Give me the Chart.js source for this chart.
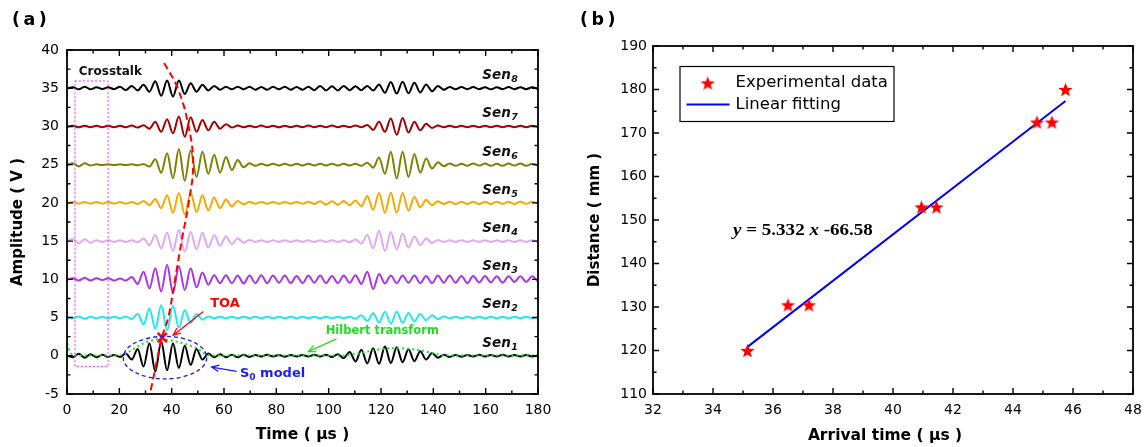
<!DOCTYPE html>
<html><head><meta charset="utf-8">
<script src="https://cdn.jsdelivr.net/npm/chart.js@4"></script>
<style>
html,body{margin:0;padding:0;background:#fff;}
#wrap{position:relative;width:1147px;height:447px;overflow:hidden;background:#fff;}
canvas{position:absolute;top:0;}
#ca{left:0;} #cb{left:570px;}
</style></head><body>
<div id="wrap"><canvas id="ca" width="570" height="447"></canvas><canvas id="cb" width="577" height="447"></canvas></div>
<script>
// ---------------- Panel (a) data ----------------
const sampleStep = 2.25; // µs between successive read extrema
const sen1 = [0.05,-0.2,0.25,-0.25,0.2,-0.2,0.15,-0.15,0.1,-0.15,
  0.3,-0.5,0.9,-1.4,1.65,-2.05,1.9,-1.9,1.65,-1.6,
  1.3,-1.2,0.9,-0.5,0.3,-0.2,0.2,-0.2,0.15,-0.2,
  0.15,-0.15,0.1,-0.1,0.12,-0.1,0.1,-0.12,0.1,-0.1,
  0.1,-0.1,0.12,-0.1,0.15,-0.15,0.2,-0.3,0.5,-0.75,
  0.8,-1.0,1.0,-1.05,1.2,-0.95,1.1,-0.85,0.85,-0.7,
  0.6,-0.5,0.35,-0.25,0.15,-0.15,0.1,-0.12,0.1,-0.1,
  0.12,-0.1,0.1,-0.1,0.12,-0.1,0.1,-0.1,0.1,-0.1,
  0.05];
const sen2 = [0.05,-0.1,0.15,-0.15,0.1,-0.1,0.1,-0.1,0.1,-0.1,
  0.15,-0.2,0.5,-0.9,1.2,-1.45,1.6,-1.65,1.5,-1.3,
  0.95,-0.7,0.45,-0.25,0.15,-0.1,0.1,-0.1,0.1,-0.1,
  0.1,-0.1,0.1,-0.1,0.1,-0.1,0.1,-0.1,0.1,-0.1,
  0.1,-0.1,0.1,-0.1,0.1,-0.1,0.1,-0.1,0.1,-0.15,
  0.3,-0.45,0.55,-0.65,0.75,-0.8,0.75,-0.7,0.6,-0.5,
  0.45,-0.35,0.3,-0.2,0.15,-0.1,0.1,-0.1,0.1,-0.1,
  0.1,-0.1,0.1,-0.1,0.1,-0.1,0.1,-0.1,0.1,-0.1,
  0.05];
const sen3 = [-0.05,0.15,-0.15,0.2,-0.15,0.15,-0.1,0.15,-0.15,0.1,
  -0.15,0.3,-0.6,1.0,-1.2,1.45,-1.6,1.9,-1.8,1.7,
  -1.4,1.45,-1.05,0.9,-0.7,0.55,-0.5,0.55,-0.5,0.5,
  -0.55,0.5,-0.5,0.55,-0.5,0.5,-0.45,0.5,-0.5,0.45,
  -0.5,0.5,-0.45,0.5,-0.5,0.45,-0.5,0.5,-0.45,0.55,
  -0.6,1.0,-1.25,0.7,-0.55,0.5,-0.5,0.5,-0.45,0.5,
  -0.5,0.45,-0.5,0.5,-0.45,0.5,-0.45,0.45,-0.5,0.45,
  -0.4,0.45,-0.4,0.4,-0.45,0.4,-0.35,0.4,-0.35,0.4,
  -0.3];
const sen4 = [-0.05,0.3,-0.3,0.25,-0.2,0.1,-0.1,0.1,-0.1,0.1,
  -0.1,0.1,-0.15,0.35,-0.55,0.8,-0.95,1.1,-1.3,1.45,
  -1.4,1.2,-1.1,1.1,-0.85,0.8,-0.6,0.6,-0.4,0.35,
  -0.2,0.15,-0.1,0.1,-0.1,0.1,-0.1,0.1,-0.1,0.1,
  -0.1,0.1,-0.1,0.1,-0.1,0.1,-0.1,0.1,-0.15,0.2,
  -0.35,0.8,-0.95,1.35,-1.3,1.2,-1.1,1.0,-0.85,0.65,
  -0.55,0.35,-0.25,0.15,-0.1,0.1,-0.1,0.1,-0.1,0.1,
  -0.1,0.1,-0.1,0.1,-0.1,0.1,-0.1,0.1,-0.1,0.1,
  -0.05];
const sen5 = [-0.1,0.1,-0.1,0.1,-0.1,0.1,-0.1,0.1,-0.1,0.1,
  -0.1,0.12,-0.15,0.25,-0.3,0.5,-0.7,1.0,-1.3,1.3,
  -1.5,1.3,-1.2,1.0,-1.0,0.7,-0.7,0.45,-0.45,0.25,
  -0.2,0.15,-0.12,0.12,-0.12,0.12,-0.12,0.12,-0.12,0.12,
  -0.12,0.15,-0.15,0.2,-0.25,0.2,-0.25,0.25,-0.3,0.3,
  -0.45,0.9,-0.9,1.3,-1.3,1.35,-1.3,1.3,-1.0,0.8,
  -0.6,0.4,-0.3,0.2,-0.15,0.15,-0.15,0.15,-0.15,0.15,
  -0.15,0.15,-0.15,0.15,-0.12,0.15,-0.15,0.15,-0.12,0.15,
  -0.1];
const sen6 = [-0.05,0.2,-0.25,0.2,-0.1,0.05,-0.05,0.05,-0.05,0.05,
  -0.05,0.05,-0.08,0.1,-0.25,0.7,-1.05,1.5,-1.8,2.05,
  -2.1,1.9,-1.6,1.7,-1.2,1.3,-1.05,1.0,-0.7,0.6,
  -0.35,0.2,-0.15,0.12,-0.12,0.12,-0.12,0.12,-0.12,0.12,
  -0.12,0.12,-0.12,0.12,-0.12,0.12,-0.12,0.12,-0.12,0.12,
  -0.15,0.25,-0.4,0.95,-1.2,1.7,-1.8,1.7,-1.6,1.4,
  -1.05,0.8,-0.5,0.3,-0.2,0.15,-0.15,0.12,-0.15,0.15,
  -0.12,0.15,-0.15,0.12,-0.15,0.15,-0.12,0.15,-0.15,0.12,
  -0.1];
const sen7 = [-0.05,0.1,-0.12,0.1,-0.1,0.1,-0.1,0.1,-0.1,0.1,
  -0.12,0.12,-0.15,0.15,-0.3,0.6,-0.7,0.95,-0.9,1.3,
  -1.35,1.2,-0.7,0.85,-0.5,0.6,-0.3,0.3,-0.15,0.12,
  -0.12,0.1,-0.1,0.12,-0.1,0.1,-0.12,0.1,-0.1,0.1,
  -0.1,0.12,-0.1,0.1,-0.1,0.12,-0.1,0.1,-0.1,0.12,
  -0.12,0.2,-0.45,0.6,-0.7,1.05,-1.1,1.1,-0.8,0.6,
  -0.5,0.35,-0.2,0.12,-0.1,0.1,-0.1,0.1,-0.1,0.1,
  -0.1,0.1,-0.1,0.1,-0.1,0.1,-0.1,0.1,-0.1,0.1,
  -0.05];
const sen8 = [-0.05,0.12,-0.15,0.2,-0.15,0.12,-0.1,0.12,-0.12,0.2,
  -0.25,0.3,-0.3,0.45,-0.45,0.9,-1.0,1.0,-1.1,1.0,
  -0.75,0.65,-0.45,0.45,-0.3,0.3,-0.2,0.2,-0.15,0.2,
  -0.15,0.2,-0.2,0.15,-0.2,0.2,-0.15,0.2,-0.2,0.15,
  -0.2,0.2,-0.25,0.3,-0.3,0.25,-0.3,0.3,-0.25,0.25,
  -0.25,0.3,-0.3,0.5,-0.6,0.8,-0.7,0.85,-0.65,0.7,
  -0.55,0.5,-0.4,0.3,-0.2,0.15,-0.15,0.15,-0.12,0.15,
  -0.12,0.12,-0.15,0.12,-0.12,0.15,-0.12,0.12,-0.12,0.12,
  -0.1];
const sensorNames = ['1','2','3','4','5','6','7','8'];
const baselines = [0,5,10,15,20,25,30,35];
const hilbertT = [0,1.2,2.5,10,20,22.5,25,29,32,35.5,39,43,48,51,53,55,80,105,108,112,117,122,126.5,131,135,138,141,144,147,180];
const hilbertA = [1.6,0.5,0.05,0.05,0.05,0.3,0.8,1.6,2.0,2.2,2.05,1.75,1.2,0.7,0.2,0.05,0.05,0.05,0.15,0.35,0.7,0.95,1.0,0.9,0.7,0.5,0.25,0.08,0.05,0.05];
const toaCurveT = [32.0,36.4,38.7,41.3,43.8,46.5,48.2,46.5,42.3,36.8];
const toaCurveA = [-4.5,2.5,5,10,15,20,25,30,35,38.5];
const toaPoint = [36.4, 2.4];
const xTicksA = [0,20,40,60,80,100,120,140,160,180];
const yTicksA = [-5,0,5,10,15,20,25,30,35,40];

// ---------------- Panel (b) data ----------------
const arrivalTime = [35.15,36.5,37.2,40.95,41.45,44.8,45.3,45.75];
const distance = [120,130.5,130.5,153,153,172.5,172.5,180];
const fitSlope = 5.332, fitIntercept = -66.58;
const xTicksB = [32,34,36,38,40,42,44,46,48];
const yTicksB = [110,120,130,140,150,160,170,180,190];

// ---------------- styles ----------------
const senColors = ['#000000','#1ee8f0','#aa33ee','#e2a6f6','#f5a800','#808000','#a30000','#000000'];
const SANS = '"DejaVu Sans"';

function drawArrow(ctx, x1, y1, x2, y2, color, lw) {
  ctx.save();
  ctx.strokeStyle = color; ctx.lineWidth = lw; ctx.setLineDash([]);
  ctx.beginPath(); ctx.moveTo(x1, y1); ctx.lineTo(x2, y2); ctx.stroke();
  const ang = Math.atan2(y2 - y1, x2 - x1), h = 8, s = 0.42;
  ctx.beginPath();
  ctx.moveTo(x2 - h * Math.cos(ang - s), y2 - h * Math.sin(ang - s));
  ctx.lineTo(x2, y2);
  ctx.lineTo(x2 - h * Math.cos(ang + s), y2 - h * Math.sin(ang + s));
  ctx.stroke();
  ctx.restore();
}
function text(ctx, s, x, y, font, color, align, base) {
  ctx.font = font; ctx.fillStyle = color; ctx.textAlign = align || 'left'; ctx.textBaseline = base || 'middle';
  ctx.fillText(s, x, y);
}
function frameAndTicks(ctx, a, X, Y, xt, yt, xMinor, yMinor) {
  ctx.save();
  ctx.strokeStyle = '#000'; ctx.lineWidth = 1.8; ctx.setLineDash([]);
  ctx.strokeRect(a.left, a.top, a.right - a.left, a.bottom - a.top);
  ctx.lineWidth = 1.4;
  const maj = 6, mnr = 3.5;
  ctx.beginPath();
  xt.forEach((v, i) => {
    const px = X(v);
    ctx.moveTo(px, a.bottom); ctx.lineTo(px, a.bottom - maj);
    ctx.moveTo(px, a.top); ctx.lineTo(px, a.top + maj);
    if (i < xt.length - 1) {
      const pm = X(v + xMinor);
      ctx.moveTo(pm, a.bottom); ctx.lineTo(pm, a.bottom - mnr);
      ctx.moveTo(pm, a.top); ctx.lineTo(pm, a.top + mnr);
    }
  });
  yt.forEach((v, i) => {
    const py = Y(v);
    ctx.moveTo(a.left, py); ctx.lineTo(a.left + maj, py);
    ctx.moveTo(a.right, py); ctx.lineTo(a.right - maj, py);
    if (i < yt.length - 1) {
      const pm = Y(v + yMinor);
      ctx.moveTo(a.left, pm); ctx.lineTo(a.left + mnr, pm);
      ctx.moveTo(a.right, pm); ctx.lineTo(a.right - mnr, pm);
    }
  });
  ctx.stroke();
  ctx.restore();
}

// ---------------- Panel (a) ----------------
const timeGrid = sen1.map((_, i) => i * sampleStep);
const sensors = [sen1, sen2, sen3, sen4, sen5, sen6, sen7, sen8];
const dsA = [];
dsA.push({ data: toaCurveT.map((t, i) => ({ x: t, y: toaCurveA[i] })), borderColor: '#ff0000', borderWidth: 2,
  borderDash: [7, 4], tension: 0.4, pointRadius: 0, order: 0 });
dsA.push({ data: [{ x: toaPoint[0], y: toaPoint[1] }], showLine: false, pointStyle: 'crossRot', pointRadius: 6.5,
  borderColor: '#ff0000', pointBorderWidth: 2.5, pointBorderColor: '#ff0000', order: 0 });
dsA.push({ data: hilbertT.map((t, i) => ({ x: t, y: hilbertA[i] })), borderColor: '#22dd22', borderWidth: 2,
  borderDash: [2, 3], cubicInterpolationMode: 'monotone', pointRadius: 0, order: 1 });
sensors.forEach((arr, k) => {
  dsA.push({ data: arr.map((v, i) => ({ x: timeGrid[i], y: baselines[k] + v })), borderColor: senColors[k],
    borderWidth: 2, cubicInterpolationMode: 'monotone', pointRadius: 0, order: 2 + k });
});

const decorA = {
  id: 'decorA',
  afterDraw(chart) {
    const { ctx, chartArea: a, scales: { x, y } } = chart;
    const X = v => x.getPixelForValue(v), Y = v => y.getPixelForValue(v);
    ctx.save();
    // crosstalk box
    ctx.setLineDash([2, 2]); ctx.strokeStyle = '#ff33ff'; ctx.lineWidth = 1;
    ctx.strokeRect(X(3.05), Y(35.95), X(15.7) - X(3.05), Y(-1.4) - Y(35.95));
    // S0 ellipse
    ctx.setLineDash([4, 3]); ctx.strokeStyle = '#1a1aff'; ctx.lineWidth = 1.3;
    ctx.beginPath();
    ctx.ellipse(X(37.45), Y(-0.24), X(37.45 + 15.95) - X(37.45), Y(-0.24) - Y(-0.24 + 2.78), 0, 0, Math.PI * 2);
    ctx.stroke();
    ctx.setLineDash([]);
    // arrows
    drawArrow(ctx, X(52.1), Y(5.8), X(40.6), Y(2.7), '#ff0000', 1.3);
    drawArrow(ctx, X(64.8), Y(-2.05), X(55.3), Y(-1.48), '#1a1aff', 1.3);
    drawArrow(ctx, X(103), Y(2.2), X(92.2), Y(0.55), '#22dd22', 1.3);
    // annotation texts
    text(ctx, 'Crosstalk', X(4.5), Y(37.1), 'bold 12px ' + SANS, '#111');
    text(ctx, 'TOA', X(60.4), Y(6.8), 'bold 13px ' + SANS, '#ff0000', 'center');
    text(ctx, 'Hilbert transform', X(120.5), Y(3.2), 'bold 11.5px ' + SANS, '#22dd22', 'center');
    let sx = X(66.1);
    text(ctx, 'S', sx, Y(-2.4), 'bold 13px ' + SANS, '#1a1aff');
    sx += ctx.measureText('S').width;
    text(ctx, '0', sx, Y(-2.4) + 4, 'bold 9px ' + SANS, '#1a1aff');
    sx += ctx.measureText('0').width;
    text(ctx, ' model', sx, Y(-2.4), 'bold 13px ' + SANS, '#1a1aff');
    // sensor labels
    sensorNames.forEach((n, k) => {
      const yy = Y(baselines[k] + 1.65), right = X(172.3);
      ctx.font = 'italic bold 9.5px ' + SANS; const ws = ctx.measureText(n).width;
      ctx.font = 'italic bold 13.5px ' + SANS; const wm = ctx.measureText('Sen').width;
      const x0 = right - ws - wm - 0.5;
      text(ctx, 'Sen', x0, yy, 'italic bold 13.5px ' + SANS, '#111');
      text(ctx, n, x0 + wm + 0.5, yy + 4, 'italic bold 9.5px ' + SANS, '#111');
    });
    // frame & ticks
    frameAndTicks(ctx, a, X, Y, xTicksA, yTicksA, 10, 2.5);
    xTicksA.forEach(v => text(ctx, String(v), X(v), a.bottom + 16, '14px ' + SANS, '#000', 'center'));
    yTicksA.forEach(v => text(ctx, String(v), a.left - 8, Y(v), '14px ' + SANS, '#000', 'right'));
    // titles
    text(ctx, 'Time ( µs )', (a.left + a.right) / 2, 435, 'bold 15.5px ' + SANS, '#000', 'center');
    ctx.save(); ctx.translate(18, (a.top + a.bottom) / 2); ctx.rotate(-Math.PI / 2);
    text(ctx, 'Amplitude ( V )', 0, 0, 'bold 15px ' + SANS, '#000', 'center');
    ctx.restore();
    ctx.letterSpacing = '3.5px';
    text(ctx, '(a)', 12, 20, 'bold 17.5px ' + SANS, '#000');
    ctx.letterSpacing = '0px';
    ctx.restore();
  }
};

new Chart(document.getElementById('ca'), {
  type: 'line',
  data: { datasets: dsA },
  options: {
    responsive: false, animation: false, devicePixelRatio: 1, events: [],
    layout: { padding: { left: 67, right: 32, top: 50, bottom: 53 } },
    scales: {
      x: { type: 'linear', display: false, min: 0, max: 180 },
      y: { type: 'linear', display: false, min: -5, max: 40 }
    },
    plugins: { legend: { display: false }, tooltip: { enabled: false } }
  },
  plugins: [decorA]
});

// ---------------- Panel (b) ----------------
function makeStar(size, color) {
  const c = document.createElement('canvas'); c.width = c.height = size;
  const g = c.getContext('2d'); const r = size / 2, ri = r * 0.42;
  g.beginPath();
  for (let k = 0; k < 10; k++) {
    const rr = k % 2 ? ri : r; const ang = -Math.PI / 2 + k * Math.PI / 5;
    g.lineTo(r + rr * Math.cos(ang), r + rr * Math.sin(ang) + size * 0.05);
  }
  g.closePath(); g.fillStyle = color; g.fill();
  return c;
}
const starImg = makeStar(15, '#ff0000');
const fitStart = Math.min(...arrivalTime), fitEnd = Math.max(...arrivalTime);

const decorB = {
  id: 'decorB',
  afterDraw(chart) {
    const { ctx, chartArea: a, scales: { x, y } } = chart;
    const X = v => x.getPixelForValue(v), Y = v => y.getPixelForValue(v);
    ctx.save();
    frameAndTicks(ctx, a, X, Y, xTicksB, yTicksB, 1, 5);
    xTicksB.forEach(v => text(ctx, String(v), X(v), a.bottom + 16.5, '14px ' + SANS, '#000', 'center'));
    yTicksB.forEach(v => text(ctx, String(v), a.left - 6, Y(v), '14px ' + SANS, '#000', 'right'));
    text(ctx, 'Arrival time ( µs )', 315, 436, 'bold 15.5px ' + SANS, '#000', 'center');
    ctx.save(); ctx.translate(25, (a.top + a.bottom) / 2); ctx.rotate(-Math.PI / 2);
    text(ctx, 'Distance ( mm )', 0, 0, 'bold 15px ' + SANS, '#000', 'center');
    ctx.restore();
    ctx.letterSpacing = '3.5px';
    text(ctx, '(b)', 10, 20, 'bold 17.5px ' + SANS, '#000');
    ctx.letterSpacing = '0px';
    // legend
    ctx.strokeStyle = '#000'; ctx.lineWidth = 1.2;
    ctx.strokeRect(110, 66.5, 214, 55);
    ctx.drawImage(starImg, 137.7 - 7.5, 83 - 7.5);
    ctx.strokeStyle = '#0000ff'; ctx.lineWidth = 2;
    ctx.beginPath(); ctx.moveTo(116.5, 104.5); ctx.lineTo(159.5, 104.5); ctx.stroke();
    text(ctx, 'Experimental data', 165.5, 83, '16.5px ' + SANS, '#000');
    text(ctx, 'Linear fitting', 165.5, 105, '16.5px ' + SANS, '#000');
    // equation
    ctx.save(); ctx.translate(163, 231); ctx.scale(1.12, 1);
    const parts = [['y', true], [' = ' + fitSlope + ' ', false], ['x', true], [' ' + fitIntercept, false]];
    let cx = 0;
    parts.forEach(([s, it]) => {
      ctx.font = (it ? 'italic ' : '') + 'bold 17px "Liberation Serif"';
      ctx.fillStyle = '#000'; ctx.textAlign = 'left'; ctx.textBaseline = 'middle';
      ctx.fillText(s, cx, 0); cx += ctx.measureText(s).width;
    });
    ctx.restore();
    ctx.restore();
  }
};

new Chart(document.getElementById('cb'), {
  type: 'scatter',
  data: {
    datasets: [
      { data: [{ x: fitStart, y: fitSlope * fitStart + fitIntercept }, { x: fitEnd, y: fitSlope * fitEnd + fitIntercept }],
        showLine: true, borderColor: '#0000ff', borderWidth: 2, pointRadius: 0, order: 1 },
      { data: arrivalTime.map((t, i) => ({ x: t, y: distance[i] })), pointStyle: starImg, pointRadius: 8, order: 0 }
    ]
  },
  options: {
    responsive: false, animation: false, devicePixelRatio: 1, events: [],
    layout: { padding: { left: 83, right: 14, top: 46, bottom: 53 } },
    scales: {
      x: { type: 'linear', display: false, min: 32, max: 48 },
      y: { type: 'linear', display: false, min: 110, max: 190 }
    },
    plugins: { legend: { display: false }, tooltip: { enabled: false } }
  },
  plugins: [decorB]
});
</script>
</body></html>
